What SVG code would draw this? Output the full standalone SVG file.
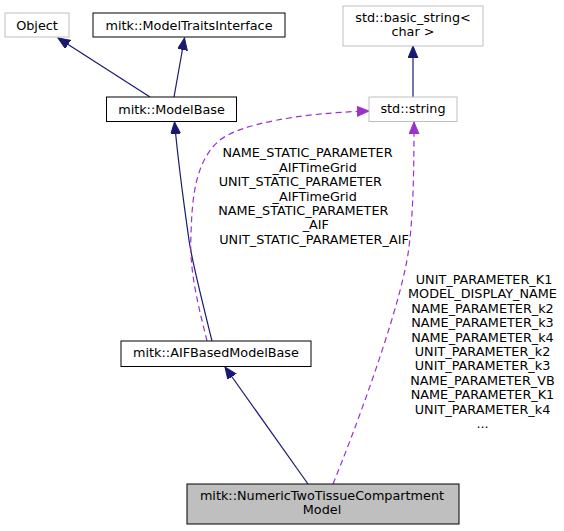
<svg xmlns="http://www.w3.org/2000/svg" width="564" height="531" viewBox="0 0 564 531">
<style>
text{font-family:"DejaVu Sans","Liberation Sans",sans-serif;font-size:12.8px;fill:#000}
.c{text-anchor:middle}
.bk{fill:#fff;stroke:#000;stroke-width:1}
.gr{fill:#fff;stroke:#bfbfbf;stroke-width:1}
.sel{fill:#bfbfbf;stroke:#000;stroke-width:1}
.inh{fill:none;stroke:#191970;stroke-width:1.2}
.use{fill:none;stroke:#9a32cd;stroke-width:1.2;stroke-dasharray:6,4}
</style>
<defs>
<marker id="an" markerUnits="userSpaceOnUse" markerWidth="14" markerHeight="12" refX="12" refY="5" orient="auto">
<path d="M0,0 L12,5 L0,10 z" fill="#191970" stroke="#191970" stroke-width="1"/>
</marker>
<marker id="ap" markerUnits="userSpaceOnUse" markerWidth="14" markerHeight="12" refX="12" refY="5" orient="auto">
<path d="M0,0 L12,5 L0,10 z" fill="#9a32cd" stroke="#9a32cd" stroke-width="1"/>
</marker>
</defs>
<rect width="564" height="531" fill="#fff"/>
<g id="connectors">
<path class="inh" d="M150,97 L58,38" marker-end="url(#an)"/>
<path class="inh" d="M174,97 L184.5,38" marker-end="url(#an)"/>
<path class="inh" d="M413,97 L413,46" marker-end="url(#an)"/>
<path class="inh" d="M212,341 C202,300 192,262 189,240 C184,205 178,160 174.5,122" marker-end="url(#an)"/>
<path class="inh" d="M308,484 L225,367" marker-end="url(#an)"/>
<path class="use" d="M207,341 C199,308 189,272 191,235 C192,195 196,160 220,140 C240,124 300,113 369,111" marker-end="url(#ap)"/>
<path class="use" d="M333,484 C355,430 392,330 405,270 C413,235 414,180 414,122" marker-end="url(#ap)"/>
<text class="c" x="307.5" y="157.3">NAME_STATIC_PARAMETER</text>
<text class="c" x="314.7" y="171.7">_AIFTimeGrid</text>
<text class="c" x="300.3" y="186.1">UNIT_STATIC_PARAMETER</text>
<text class="c" x="314.7" y="200.5">_AIFTimeGrid</text>
<text class="c" x="303.3" y="214.9">NAME_STATIC_PARAMETER</text>
<text class="c" x="315.8" y="229.3">_AIF</text>
<text class="c" x="314" y="243.7">UNIT_STATIC_PARAMETER_AIF</text>
<text class="c" x="484" y="284">UNIT_PARAMETER_K1</text>
<text class="c" x="482.5" y="298.4">MODEL_DISPLAY_NAME</text>
<text class="c" x="482.5" y="312.8">NAME_PARAMETER_k2</text>
<text class="c" x="482.5" y="327.2">NAME_PARAMETER_k3</text>
<text class="c" x="482.5" y="341.6">NAME_PARAMETER_k4</text>
<text class="c" x="482.5" y="356">UNIT_PARAMETER_k2</text>
<text class="c" x="482.5" y="370.4">UNIT_PARAMETER_k3</text>
<text class="c" x="482.5" y="384.8">NAME_PARAMETER_VB</text>
<text class="c" x="482.5" y="399.2">NAME_PARAMETER_K1</text>
<text class="c" x="482.5" y="413.6">UNIT_PARAMETER_k4</text>
<text class="c" x="482.5" y="428">...</text>
</g>
<g id="Object">
<rect class="gr" x="5" y="13" width="64" height="24"/>
<text class="c" x="37" y="29.5">Object</text>
</g>
<g id="ModelTraitsInterface">
<rect class="bk" x="93" y="13" width="192" height="24"/>
<text class="c" x="189" y="29.5">mitk::ModelTraitsInterface</text>
</g>
<g id="basic_string">
<rect class="gr" x="343" y="6" width="140" height="40"/>
<text class="c" x="413" y="21.7">std::basic_string&lt;</text>
<text class="c" x="413" y="36.1">char &gt;</text>
</g>
<g id="ModelBase">
<rect class="bk" x="106.5" y="97" width="130" height="24.5"/>
<text class="c" x="171.5" y="113.5">mitk::ModelBase</text>
</g>
<g id="string">
<rect class="gr" x="369" y="97" width="88" height="24.5"/>
<text class="c" x="413" y="113.3">std::string</text>
</g>
<g id="AIFBasedModelBase">
<rect class="bk" x="121" y="341" width="190" height="25.5"/>
<text class="c" x="216" y="356.9">mitk::AIFBasedModelBase</text>
</g>
<g id="NumericTwoTissueCompartmentModel">
<rect class="sel" x="187" y="484" width="272" height="40"/>
<text class="c" x="322" y="500">mitk::NumericTwoTissueCompartment</text>
<text class="c" x="322" y="514.3">Model</text>
</g>
</svg>
